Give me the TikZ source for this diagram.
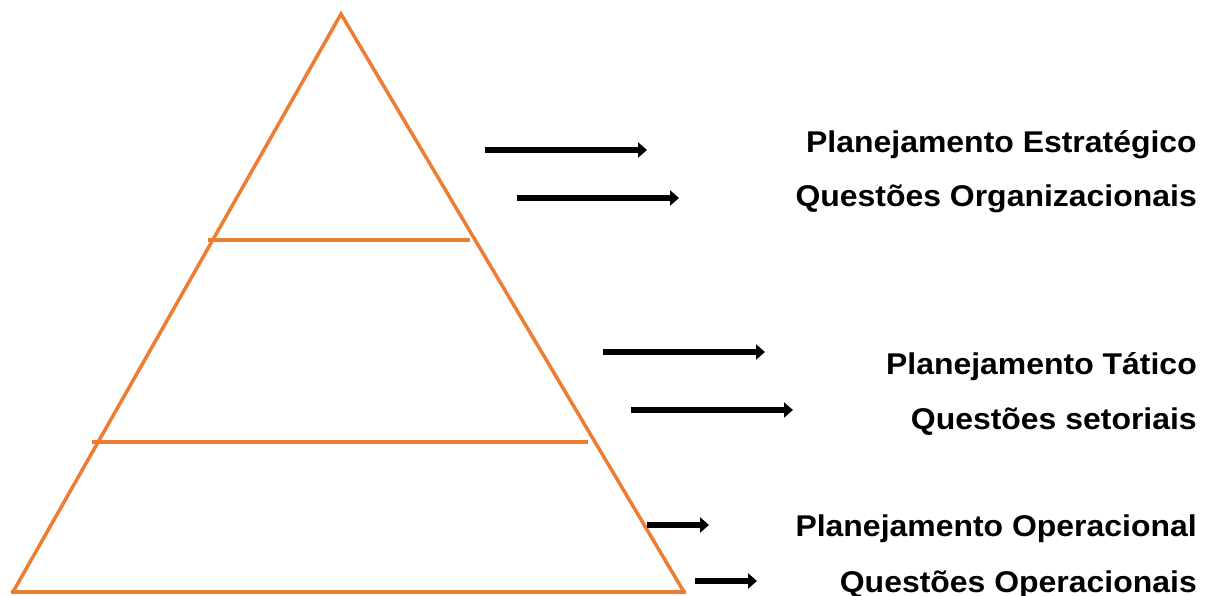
\documentclass[tikz,border=0pt]{standalone}
\usepackage{fontspec}
\setmainfont{Liberation Sans}
\usetikzlibrary{arrows.meta}
\definecolor{pyorange}{RGB}{237,125,49}

\begin{document}
\begin{tikzpicture}[x=1pt,y=-1pt,
    edge/.style={pyorange,line width=3.5pt},
    pointer/.style={black,line width=6.5pt,-{Triangle[length=9pt,width=15pt]}},
    level/.style={anchor=base east,font=\fontsize{30}{36}\selectfont\bfseries,
      inner sep=0pt,xscale=1.065,transform shape}]
  \useasboundingbox (0,0) rectangle (1213,596);
  \coordinate (A) at (341,14);
  \coordinate (B) at (13,592);
  \coordinate (C) at (684,592);
  \draw[edge,line join=miter] (B) -- (A) -- (C);
  \draw[edge] (11,592) -- (686,592);
  \draw[edge] (208,240) -- (470,240);
  \draw[edge] (92,442) -- (588,442);
  % arrows
  \coordinate (t1) at (485,150); \coordinate (h1) at (647,150);
  \coordinate (t2) at (517,198); \coordinate (h2) at (679,198);
  \coordinate (t3) at (603,352); \coordinate (h3) at (765,352);
  \coordinate (t4) at (631,410); \coordinate (h4) at (793,410);
  \coordinate (t5) at (647,525); \coordinate (h5) at (709,525);
  \coordinate (t6) at (695,581); \coordinate (h6) at (757,581);
  \foreach \i in {1,...,6}
    \draw[pointer] (t\i) -- (h\i);
  % labels
  \node[level] (estr) at (1197,153) {Planejamento Estratégico};
  \node[level] (org)  at (1197,207) {Questões Organizacionais};
  \node[level] (tat)  at (1197,374) {Planejamento Tático};
  \node[level] (set)  at (1197,429) {Questões setoriais};
  \node[level] (oper) at (1197,536) {Planejamento Operacional};
  \node[level] (qop)  at (1197,592) {Questões Operacionais};
\end{tikzpicture}
\end{document}
